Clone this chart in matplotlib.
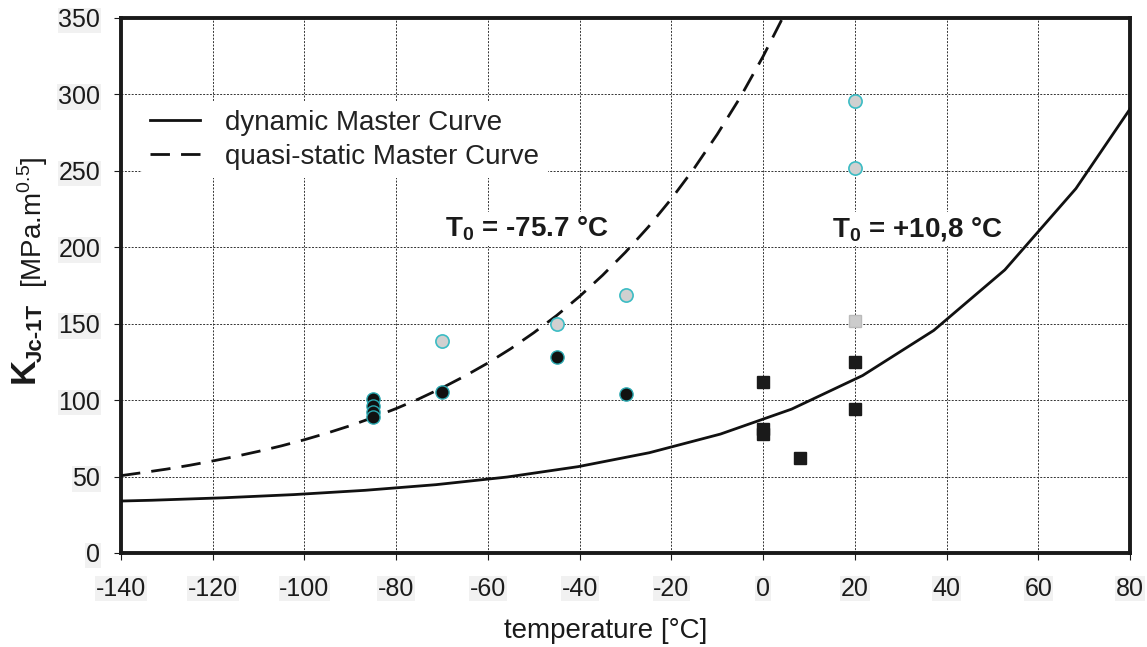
import numpy as np
import matplotlib.pyplot as plt

plt.rcParams['font.family'] = ['Liberation Sans', 'DejaVu Sans']
plt.rcParams['mathtext.fontset'] = 'custom'
plt.rcParams['mathtext.rm'] = 'Liberation Sans'
plt.rcParams['mathtext.bf'] = 'Liberation Sans:bold'
plt.rcParams['axes.unicode_minus'] = False

# master curves
dyn_T = [-140, -133.3, -117.8, -102.3, -86.8, -71.3, -55.8, -40.3, -24.8,
         -9.3, 6.2, 21.7, 37.2, 52.7, 68.2, 80]
dyn_K = [34.0, 34.5, 36.1, 38.2, 41.0, 44.7, 49.7, 56.5, 65.6,
         77.8, 94.1, 116.1, 145.6, 185.2, 238.4, 290.5]

qs_T = [-140, -135, -130, -125, -120, -115, -110, -105, -100, -95, -90, -85,
        -80, -75, -70, -65, -60, -55, -50, -45, -40, -35, -30, -25, -20,
        -15, -10, -5, 0, 5]
qs_K = [50.6, 52.7, 54.9, 57.4, 60.2, 63.2, 66.5, 70.1, 74.1, 78.5, 83.3, 88.7,
        94.5, 100.9, 108.0, 115.8, 124.3, 133.7, 144.1, 155.4, 167.9, 181.7,
        196.8, 213.4, 231.7, 251.8, 273.9, 298.0, 324.9, 354.4]

# test data
blk_circ_T = [-85, -85, -85, -85, -70, -45, -30]
blk_circ_K = [101, 96, 92, 89, 105, 128, 104]
gry_circ_T = [-70, -45, -30, 20, 20]
gry_circ_K = [139, 150, 169, 296, 252]
blk_sq_T = [0, 0, 0, 8, 20, 20]
blk_sq_K = [112, 81, 78, 62, 125, 94]
gry_sq_T = [20]
gry_sq_K = [152]

xticks = np.arange(-140, 81, 20)
yticks = np.arange(0, 351, 50)

fig = plt.figure(figsize=(11.47, 6.47), dpi=100)
ax = fig.add_axes([0.1055, 0.1453, 0.8797, 0.8269])

ax.plot(dyn_T, dyn_K, color='#111111', lw=2.0, label='dynamic Master Curve', zorder=3)
ax.plot(qs_T, qs_K, color='#111111', lw=2.0, dashes=(7, 4),
        label='quasi-static Master Curve', zorder=3)

ax.plot(gry_circ_T, gry_circ_K, 'o', ms=9.5, mfc='#d0d0d0', mec='#3cbcc4', mew=1.2, zorder=4)
ax.plot(blk_circ_T, blk_circ_K, 'o', ms=9.5, mfc='#111111', mec='#2aa8b0', mew=1.0, zorder=4)
ax.plot(blk_sq_T, blk_sq_K, 's', ms=8.5, mfc='#1a1a1a', mec='#1a1a1a', zorder=4)
ax.plot(gry_sq_T, gry_sq_K, 's', ms=8.5, mfc='#cccccc', mec='#bbbbbb', zorder=4)

ax.text(-69.4, 212, r'$\mathbf{T_0}$ = -75.7 °C', fontsize=20, fontweight='bold',
        va='center', ha='left', color='#1a1a1a',
        bbox=dict(facecolor='white', edgecolor='none', pad=2), zorder=2.5)
ax.text(15.0, 212, r'$\mathbf{T_0}$ = +10,8 °C', fontsize=20, fontweight='bold',
        va='center', ha='left', color='#1a1a1a',
        bbox=dict(facecolor='white', edgecolor='none', pad=2), zorder=2.5)

leg = ax.legend(loc='upper left', bbox_to_anchor=(0.007, 0.87), fontsize=20,
                frameon=True, facecolor='white', edgecolor='none', framealpha=1,
                handlelength=1.8, handletextpad=0.9, labelspacing=0.3,
                borderpad=0.3)
leg.set_zorder(2.5)
for t in leg.get_texts():
    t.set_color('#222222')

ax.set_xlim(-140, 80)
ax.set_ylim(0, 350)
ax.set_xticks(xticks)
ax.set_yticks(yticks)
ax.grid(True, color='#333333', lw=0.7, ls=(0, (2, 1.5)), zorder=1)
ax.set_axisbelow(True)

for s in ax.spines.values():
    s.set_linewidth(2.8)
    s.set_color('#1a1a1a')

ax.tick_params(axis='x', direction='out', length=5, width=0.8, pad=12,
               labelsize=18, colors='#1a1a1a')
ax.tick_params(axis='y', direction='out', length=5, width=0.8, pad=10,
               labelsize=18, colors='#1a1a1a')
for lab in ax.get_xticklabels() + ax.get_yticklabels():
    lab.set_bbox(dict(facecolor='#f1f1f1', edgecolor='none', pad=0.5))

ax.set_xlabel('temperature [°C]', fontsize=20, color='#1a1a1a')
ax.xaxis.set_label_coords((606 - 121) / 1009, -0.122)

# y label pieces (mixed sizes)
fig.text(24 / 1147, 1 - 370 / 647, 'K', fontsize=25, fontweight='bold', rotation=90,
         ha='center', va='center', color='#1a1a1a')
fig.text(36 / 1147, 1 - 333 / 647, 'Jc-1T', fontsize=16, fontweight='bold', rotation=90,
         ha='center', va='center', color='#1a1a1a')
fig.text(33 / 1147, 1 - 222 / 647, r'[MPa.m$^{0.5}$]', fontsize=20, rotation=90,
         ha='center', va='center', color='#1a1a1a')

plt.savefig('out.png', dpi=100)
